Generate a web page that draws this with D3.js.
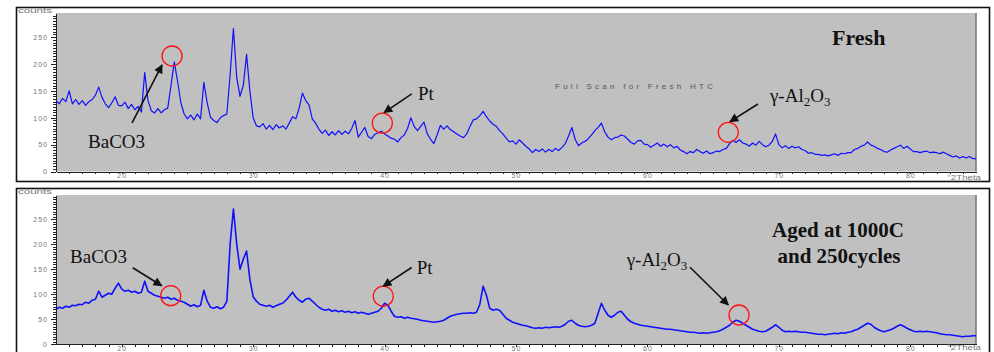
<!DOCTYPE html>
<meta charset="utf-8">
<style>
    body { margin: 0; background: #fff; }
    svg { display: block; }
    .ax text { font: 7px "Liberation Sans", Arial, sans-serif; fill: #777; letter-spacing: 1px; }
    .ax path, .ax line { stroke: #222; fill: none; shape-rendering: crispEdges; }
    .note { font: 19px "Liberation Serif", "Times New Roman", serif; fill: #111; }
    .title { font: bold 21px "Liberation Serif", "Times New Roman", serif; fill: #111; }
    .small { font: 7px "Liberation Sans", Arial, sans-serif; fill: #777; }
</style>
<body>
<script src="https://cdnjs.cloudflare.com/ajax/libs/d3/7.8.5/d3.min.js"></script>
<script>
    // scan grid (degrees 2theta), one count value every 0.25 deg from 15 to 85
    const angleStart = 15, angleStep = 0.25;

    const freshCounts = [
        132,126,136,130,150,126,134,125,132,123,130,134,142,157,138,126,119,128,139,123,
        122,129,117,125,115,121,111,184,132,113,109,117,109,115,118,160,204,168,128,107,
        98,105,96,107,98,166,128,101,95,91,100,104,107,180,266,175,140,160,218,150,
        100,85,83,89,79,86,78,87,81,85,79,90,102,98,118,146,132,124,98,90,
        79,71,77,67,74,68,76,69,75,70,80,95,64,73,82,65,61,69,72,75,
        70,66,62,60,55,63,68,80,100,84,76,84,92,70,60,52,68,86,79,85,
        78,74,70,66,63,70,84,96,98,104,112,102,94,88,84,76,70,62,55,57,
        51,59,53,47,42,35,41,37,42,36,41,37,43,39,45,52,66,82,60,48,
        53,56,61,68,76,82,90,74,64,59,63,64,68,66,60,54,51,57,58,51,
        50,45,49,53,47,51,46,50,44,47,40,37,33,37,35,41,37,34,38,33,
        35,38,37,41,43,52,58,54,59,53,51,47,53,49,56,50,46,49,56,70,
        50,44,48,43,47,44,46,41,39,34,35,32,32,30,31,29,31,33,30,34,
        33,35,35,41,43,47,49,55,49,47,43,41,37,36,40,43,46,49,43,47,
        42,37,37,35,37,38,35,36,35,33,36,33,30,27,29,25,28,25,28,24,
        24
    ];

    const agedCounts = [
        70,74,72,76,74,78,77,80,79,84,82,88,90,106,94,98,102,100,112,122,
        110,106,108,104,106,102,104,126,106,102,98,96,94,92,94,90,92,88,86,84,
        80,76,79,75,78,108,86,74,72,75,71,74,86,200,270,200,150,170,186,130,
        95,86,80,78,76,78,74,77,80,82,88,96,104,94,88,84,90,92,86,80,
        74,70,68,70,66,68,65,67,64,66,63,65,62,64,62,60,62,64,66,72,
        82,78,66,56,54,55,52,54,52,51,50,48,47,46,45,44,45,46,48,52,
        56,58,60,61,62,62,63,62,64,80,116,98,72,68,70,68,60,52,48,44,
        42,40,38,37,35,33,32,33,32,34,33,34,35,34,36,40,46,48,42,38,
        36,35,36,38,42,62,82,68,58,54,58,64,66,58,50,45,42,40,38,37,
        36,35,34,33,32,31,30,30,29,28,27,26,25,24,24,23,22,23,22,23,
        24,25,27,30,34,38,44,48,46,42,38,34,30,28,26,25,26,30,34,39,
        34,28,25,26,25,26,25,24,24,23,22,21,20,20,19,20,21,22,21,23,
        22,24,25,28,30,34,38,42,40,34,30,27,25,27,29,32,36,39,36,32,
        29,26,25,26,25,26,25,24,23,21,20,19,19,18,17,16,15,16,16,17,
        17
    ];

    const yLabelValues = [0, 50, 100, 150, 200, 250];
    const xLabelValues = [20, 30, 40, 50, 60, 70, 80];

    const width = 994, height = 352;

    const svg = d3.select('body').append('svg')
        .attr('width', width)
        .attr('height', height);

    svg.append('defs').append('marker')
        .attr('id', 'head')
        .attr('viewBox', '0 0 10 10')
        .attr('refX', 9).attr('refY', 5)
        .attr('markerUnits', 'userSpaceOnUse')
        .attr('markerWidth', 10).attr('markerHeight', 9)
        .attr('orient', 'auto')
        .append('path')
        .attr('d', 'M0,0 L10,5 L0,10 Z')
        .attr('fill', '#111');

    const x = d3.scaleLinear().domain([15, 85]).range([56, 976]);

    const panels = [
        {
            counts: freshCounts, frameTop: 7.5, frameH: 174, plotTop: 13, plotBottom: 171.5, yMax: 295,
            lineWidth: 1.2, unitY: 179.5,
            notes: [
                {label: 'BaCO3', angle: 23.83, value: 215, text: [-84, 92], from: [-40, 67], to: [-10, 9]},
                {label: 'Pt', angle: 39.83, value: 90, text: [35.7, -23.3], from: [29.4, -29.3], to: [1.7, -10.6]},
                {label: 'gamma', angle: 66.15, value: 73, text: [41.7, -30.3], from: [29.7, -28.3], to: [1.7, -10.6]}
            ]
        },
        {
            counts: agedCounts, frameTop: 188.5, frameH: 180, plotTop: 195, plotBottom: 344.3, yMax: 298,
            lineWidth: 1.6, unitY: 350,
            notes: [
                {label: 'BaCO3', angle: 23.73, value: 97, text: [-100.7, -32.4], from: [-38, -28], to: [-9, -10]},
                {label: 'Pt', angle: 39.9, value: 96, text: [33.4, -22.7], from: [28.4, -28.7], to: [0, -10]},
                {label: 'gamma', angle: 66.97, value: 58.5, text: [-112.3, -49], from: [-49, -47.7], to: [-10.7, -10]}
            ]
        }
    ];

    panels.forEach(p => {
        const g = svg.append('g');
        const y = d3.scaleLinear().domain([0, p.yMax]).range([p.plotBottom, p.plotTop]);

        // outer frame
        g.append('rect')
            .attr('x', 16.5).attr('y', p.frameTop)
            .attr('width', 973).attr('height', p.frameH)
            .attr('fill', '#fff')
            .attr('stroke', '#111')
            .attr('stroke-width', 1.6);

        // plot background
        g.append('rect')
            .attr('x', x(15)).attr('y', p.plotTop)
            .attr('width', x(85) - x(15)).attr('height', p.plotBottom - p.plotTop)
            .attr('fill', '#c0c0c0');
        g.append('line')
            .attr('x1', x(85)).attr('x2', x(85))
            .attr('y1', p.plotTop).attr('y2', p.plotBottom)
            .attr('stroke', '#7a7a7a').attr('stroke-width', 1.6);

        // y axis: minor every 5 counts, labelled every 50
        g.append('g').attr('class', 'ax')
            .attr('transform', `translate(${x(15)},0)`)
            .call(d3.axisLeft(y).tickValues(d3.range(0, p.yMax, 5)).tickSize(3).tickSizeOuter(0).tickFormat(''));
        g.append('g').attr('class', 'ax')
            .attr('transform', `translate(${x(15)},0)`)
            .call(d3.axisLeft(y).tickValues(yLabelValues).tickSize(5).tickPadding(3).tickSizeOuter(0))
            .call(a => a.select('.domain').remove());

        // x axis: tick every degree
        g.append('g').attr('class', 'ax')
            .attr('transform', `translate(0,${p.plotBottom})`)
            .call(d3.axisBottom(x).tickValues(d3.range(16, 85, 1)).tickSize(2.5).tickSizeOuter(0).tickFormat(''));
        g.append('g').attr('class', 'ax')
            .attr('transform', `translate(0,${p.plotBottom})`)
            .call(d3.axisBottom(x).tickValues(xLabelValues).tickSize(0).tickPadding(1.5).tickSizeOuter(0))
            .call(a => a.select('.domain').remove());

        g.append('text').attr('class', 'small')
            .attr('x', 18).attr('y', p.frameTop + 5)
            .attr('textLength', 34).attr('lengthAdjust', 'spacingAndGlyphs')
            .text('counts');
        g.append('text').attr('class', 'small')
            .attr('x', 947).attr('y', p.unitY)
            .attr('textLength', 34).attr('lengthAdjust', 'spacingAndGlyphs')
            .text('°2Theta');

        // spectrum
        const line = d3.line()
            .x((d, i) => x(angleStart + i * angleStep))
            .y(d => y(d));

        g.append('path')
            .datum(p.counts)
            .attr('d', line)
            .attr('fill', 'none')
            .attr('stroke', '#1010ff')
            .attr('stroke-width', p.lineWidth)
            .attr('stroke-linejoin', 'round');

        // peak annotations
        p.notes.forEach(n => {
            const cx = x(n.angle), cy = y(n.value);
            g.append('circle')
                .attr('cx', cx).attr('cy', cy).attr('r', 10)
                .attr('fill', 'none').attr('stroke', '#ff1010').attr('stroke-width', 1.3);
            g.append('line')
                .attr('x1', cx + n.from[0]).attr('y1', cy + n.from[1])
                .attr('x2', cx + n.to[0]).attr('y2', cy + n.to[1])
                .attr('stroke', '#111').attr('stroke-width', 1.6)
                .attr('marker-end', 'url(#head)');
            const t = g.append('text').attr('class', 'note')
                .attr('x', cx + n.text[0]).attr('y', cy + n.text[1]);
            if (n.label === 'gamma') {
                t.append('tspan').text('γ-Al');
                t.append('tspan').attr('dy', 4).style('font-size', '13px').text('2');
                t.append('tspan').attr('dy', -4).text('O');
                t.append('tspan').attr('dy', 4).style('font-size', '13px').text('3');
            } else {
                t.text(n.label);
            }
        });
    });

    // captions
    svg.append('text').attr('class', 'title')
        .attr('x', 832).attr('y', 45)
        .style('font-size', '22px')
        .text('Fresh');
    svg.append('text').attr('class', 'small')
        .attr('x', 555).attr('y', 89)
        .style('font-size', '8px').style('fill', '#555')
        .attr('textLength', 158).attr('lengthAdjust', 'spacing')
        .text('Full Scan for Fresh HTC');
    svg.append('text').attr('class', 'title')
        .attr('x', 838).attr('y', 236.5)
        .attr('text-anchor', 'middle')
        .text('Aged at 1000C');
    svg.append('text').attr('class', 'title')
        .attr('x', 839).attr('y', 263)
        .attr('text-anchor', 'middle')
        .text('and 250cycles');
</script>
</body>
